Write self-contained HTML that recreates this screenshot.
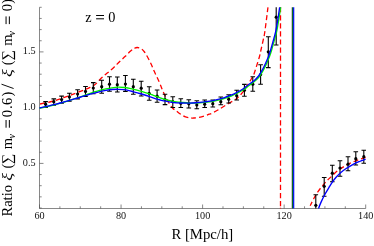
<!DOCTYPE html>
<html><head><meta charset="utf-8"><title>plot</title>
<style>html,body{margin:0;padding:0;background:#fff;}body{width:374px;height:246px;overflow:hidden;position:relative;font-family:"Liberation Serif",serif;}</style>
</head><body>
<svg width="374" height="246" viewBox="0 0 374 246" style="position:absolute;left:0;top:0;will-change:transform">
<defs><clipPath id="c"><rect x="39.0" y="7.3" width="327.0" height="201.2"/></clipPath></defs>
<rect width="374" height="246" fill="#fff"/>
<path d="M39.5,7.3V208.5H365.7M39.50,208.5v-4M59.89,208.5v-2.2M80.28,208.5v-2.2M100.66,208.5v-2.2M121.05,208.5v-4M141.44,208.5v-2.2M161.82,208.5v-2.2M182.21,208.5v-2.2M202.60,208.5v-4M222.99,208.5v-2.2M243.38,208.5v-2.2M263.76,208.5v-2.2M284.15,208.5v-4M304.54,208.5v-2.2M324.93,208.5v-2.2M345.31,208.5v-2.2M365.70,208.5v-4M39.5,208.00h2.2M39.5,196.85h2.2M39.5,185.70h2.2M39.5,174.55h2.2M39.5,163.40h4M39.5,152.25h2.2M39.5,141.10h2.2M39.5,129.95h2.2M39.5,118.80h2.2M39.5,107.65h4M39.5,96.50h2.2M39.5,85.35h2.2M39.5,74.20h2.2M39.5,63.05h2.2M39.5,51.90h4M39.5,40.75h2.2M39.5,29.60h2.2M39.5,18.45h2.2M39.5,7.30h2.2" stroke="#555" stroke-width="0.7" fill="none"/>
<g clip-path="url(#c)" fill="none" stroke-linejoin="round">
<path d="M39.50,104.10 C41.22,103.75 47.05,102.63 49.80,102.00 C52.55,101.37 53.76,101.00 56.00,100.30 C58.24,99.60 60.58,98.75 63.25,97.80 C65.92,96.85 68.54,95.90 72.00,94.60 C75.46,93.30 81.00,91.20 84.00,90.00 C87.00,88.80 88.17,88.30 90.00,87.40 C91.83,86.50 93.42,85.83 95.00,84.60 C96.58,83.37 97.92,81.55 99.50,80.00 C101.08,78.45 102.83,76.77 104.50,75.30 C106.17,73.83 107.83,72.63 109.50,71.20 C111.17,69.77 112.83,68.28 114.50,66.70 C116.17,65.12 117.70,63.43 119.50,61.70 C121.30,59.97 123.50,58.03 125.30,56.30 C127.10,54.57 128.77,52.63 130.30,51.30 C131.83,49.97 133.33,48.93 134.50,48.30 C135.67,47.67 136.18,47.43 137.30,47.50 C138.42,47.57 140.00,47.95 141.20,48.70 C142.40,49.45 143.40,50.53 144.50,52.00 C145.60,53.47 146.68,55.47 147.80,57.50 C148.92,59.53 150.17,61.98 151.20,64.20 C152.23,66.42 152.67,67.83 154.00,70.80 C155.33,73.77 157.65,78.47 159.20,82.00 C160.75,85.53 161.78,88.67 163.30,92.00 C164.82,95.33 166.77,99.33 168.30,102.00 C169.83,104.67 171.22,106.57 172.50,108.00 C173.78,109.43 174.77,109.65 176.00,110.60 C177.23,111.55 178.43,112.70 179.90,113.70 C181.37,114.70 183.02,115.90 184.80,116.60 C186.58,117.30 189.13,117.67 190.60,117.90 C192.07,118.13 192.30,118.05 193.60,118.00 C194.90,117.95 196.62,117.92 198.40,117.60 C200.18,117.28 202.50,116.68 204.30,116.10 C206.10,115.52 207.92,114.58 209.20,114.10 C210.48,113.62 210.48,113.92 212.00,113.20 C213.52,112.48 215.85,111.23 218.30,109.80 C220.75,108.37 223.78,106.37 226.70,104.60 C229.62,102.83 233.80,100.52 235.80,99.20 C237.80,97.88 237.57,97.83 238.70,96.70 C239.83,95.57 241.30,94.07 242.60,92.40 C243.90,90.73 245.37,88.40 246.50,86.70 C247.63,85.00 248.48,83.68 249.40,82.20 C250.32,80.72 251.27,79.07 252.00,77.80 C252.73,76.53 253.02,76.63 253.80,74.60 C254.58,72.57 255.75,68.62 256.70,65.60 C257.65,62.58 258.75,59.27 259.50,56.50 C260.25,53.73 260.58,51.75 261.20,49.00 C261.82,46.25 262.60,42.83 263.20,40.00 C263.80,37.17 264.00,37.50 264.80,32.00 C265.60,26.50 267.27,12.83 268.00,7.00 C268.73,1.17 269.00,-1.33 269.20,-3.00" stroke="#ff0000" stroke-width="1.3" stroke-dasharray="5 3" stroke-dashoffset="-0.7"/>
<path d="M280.5,7.1 V215" stroke="#ff0000" stroke-width="1.3" stroke-dasharray="5.2 2.88"/>
<path d="M280.5,207.7 V209" stroke="#ff0000" stroke-width="1.3"/>
<path d="M310.20,205.70 C310.78,204.55 312.43,201.10 313.70,198.80 C314.97,196.50 316.42,193.97 317.80,191.90 C319.18,189.83 320.50,188.25 322.00,186.40 C323.50,184.55 325.17,182.50 326.80,180.80 C328.43,179.10 330.02,177.87 331.80,176.20 C333.58,174.53 335.62,172.32 337.50,170.80 C339.38,169.28 341.25,168.25 343.10,167.10 C344.95,165.95 346.77,164.83 348.60,163.90 C350.43,162.97 352.27,162.27 354.10,161.50 C355.93,160.73 357.68,160.00 359.60,159.30 C361.52,158.60 364.60,157.63 365.60,157.30" stroke="#ff0000" stroke-width="1.3" stroke-dasharray="5 3" stroke-dashoffset="0.74"/>
<path d="M45.6,101.6V107.5M43.3,101.6h4.6M43.3,107.5h4.6M53.8,98.9V105.2M51.5,98.9h4.6M51.5,105.2h4.6M61.6,96.1V103.2M59.3,96.1h4.6M59.3,103.2h4.6M69.4,93.2V101.3M67.1,93.2h4.6M67.1,101.3h4.6M77.6,89.8V98.9M75.3,89.8h4.6M75.3,98.9h4.6M85.5,86.5V96.4M83.2,86.5h4.6M83.2,96.4h4.6M93.3,82.6V93.8M91.0,82.6h4.6M91.0,93.8h4.6M101.7,80.3V93.3M99.4,80.3h4.6M99.4,93.3h4.6M109.5,76.7V91.2M107.2,76.7h4.6M107.2,91.2h4.6M117.3,77.0V92.0M115.0,77.0h4.6M115.0,92.0h4.6M125.4,75.5V91.4M123.1,75.5h4.6M123.1,91.4h4.6M133.3,79.2V94.3M131.0,79.2h4.6M131.0,94.3h4.6M141.2,81.3V96.0M138.9,81.3h4.6M138.9,96.0h4.6M149.2,86.7V100.3M146.9,86.7h4.6M146.9,100.3h4.6M157.1,90.0V102.2M154.8,90.0h4.6M154.8,102.2h4.6M165.0,94.2V104.6M162.7,94.2h4.6M162.7,104.6h4.6M172.8,96.7V107.5M170.5,96.7h4.6M170.5,107.5h4.6M180.8,98.7V107.5M178.5,98.7h4.6M178.5,107.5h4.6M188.8,99.7V108.0M186.5,99.7h4.6M186.5,108.0h4.6M196.8,100.8V108.7M194.5,100.8h4.6M194.5,108.7h4.6M204.7,100.0V107.5M202.4,100.0h4.6M202.4,107.5h4.6M212.8,100.0V107.0M210.5,100.0h4.6M210.5,107.0h4.6M220.8,97.0V104.7M218.5,97.0h4.6M218.5,104.7h4.6M228.7,94.7V103.0M226.4,94.7h4.6M226.4,103.0h4.6M236.7,90.3V100.0M234.4,90.3h4.6M234.4,100.0h4.6M244.4,84.4V96.3M242.1,84.4h4.6M242.1,96.3h4.6M252.8,76.7V91.2M250.5,76.7h4.6M250.5,91.2h4.6M260.6,64.8V84.3M258.3,64.8h4.6M258.3,84.3h4.6M268.3,36.8V67.6M266.0,36.8h4.6M266.0,67.6h4.6M276.2,-10.0V45.0M273.9,-10.0h4.6M273.9,45.0h4.6M315.8,194.7V216.0M313.5,194.7h4.6M313.5,216.0h4.6M324.2,177.5V196.3M321.9,177.5h4.6M321.9,196.3h4.6M332.3,165.3V181.7M330.0,165.3h4.6M330.0,181.7h4.6M340.0,160.8V176.3M337.7,160.8h4.6M337.7,176.3h4.6M348.0,156.7V170.8M345.7,156.7h4.6M345.7,170.8h4.6M355.8,151.7V165.0M353.5,151.7h4.6M353.5,165.0h4.6M363.8,150.3V163.3M361.5,150.3h4.6M361.5,163.3h4.6" stroke="#000" stroke-width="1.1"/>
<circle cx="45.6" cy="104.2" r="1.6" fill="#000" stroke="none"/>
<circle cx="53.8" cy="101.7" r="1.6" fill="#000" stroke="none"/>
<circle cx="61.6" cy="99.5" r="1.6" fill="#000" stroke="none"/>
<circle cx="69.4" cy="96.9" r="1.6" fill="#000" stroke="none"/>
<circle cx="77.6" cy="94.0" r="1.6" fill="#000" stroke="none"/>
<circle cx="85.5" cy="91.4" r="1.6" fill="#000" stroke="none"/>
<circle cx="93.3" cy="88.0" r="1.6" fill="#000" stroke="none"/>
<circle cx="101.7" cy="86.7" r="1.6" fill="#000" stroke="none"/>
<circle cx="109.5" cy="84.2" r="1.6" fill="#000" stroke="none"/>
<circle cx="117.3" cy="84.7" r="1.6" fill="#000" stroke="none"/>
<circle cx="125.4" cy="84.0" r="1.6" fill="#000" stroke="none"/>
<circle cx="133.3" cy="86.7" r="1.6" fill="#000" stroke="none"/>
<circle cx="141.2" cy="88.2" r="1.6" fill="#000" stroke="none"/>
<circle cx="149.2" cy="93.3" r="1.6" fill="#000" stroke="none"/>
<circle cx="157.1" cy="96.2" r="1.6" fill="#000" stroke="none"/>
<circle cx="165.0" cy="99.5" r="1.6" fill="#000" stroke="none"/>
<circle cx="172.8" cy="101.7" r="1.6" fill="#000" stroke="none"/>
<circle cx="180.8" cy="103.3" r="1.6" fill="#000" stroke="none"/>
<circle cx="188.8" cy="103.8" r="1.6" fill="#000" stroke="none"/>
<circle cx="196.8" cy="105.0" r="1.6" fill="#000" stroke="none"/>
<circle cx="204.7" cy="104.2" r="1.6" fill="#000" stroke="none"/>
<circle cx="212.8" cy="103.7" r="1.6" fill="#000" stroke="none"/>
<circle cx="220.8" cy="101.7" r="1.6" fill="#000" stroke="none"/>
<circle cx="228.7" cy="99.2" r="1.6" fill="#000" stroke="none"/>
<circle cx="236.7" cy="95.8" r="1.6" fill="#000" stroke="none"/>
<circle cx="244.4" cy="90.3" r="1.6" fill="#000" stroke="none"/>
<circle cx="252.8" cy="84.2" r="1.6" fill="#000" stroke="none"/>
<circle cx="260.6" cy="74.6" r="1.6" fill="#000" stroke="none"/>
<circle cx="268.3" cy="51.8" r="1.6" fill="#000" stroke="none"/>
<circle cx="276.2" cy="17.2" r="1.6" fill="#000" stroke="none"/>
<circle cx="315.8" cy="205.3" r="1.6" fill="#000" stroke="none"/>
<circle cx="324.2" cy="186.3" r="1.6" fill="#000" stroke="none"/>
<circle cx="332.3" cy="173.2" r="1.6" fill="#000" stroke="none"/>
<circle cx="340.0" cy="168.0" r="1.6" fill="#000" stroke="none"/>
<circle cx="348.0" cy="164.2" r="1.6" fill="#000" stroke="none"/>
<circle cx="355.8" cy="158.7" r="1.6" fill="#000" stroke="none"/>
<circle cx="363.8" cy="156.7" r="1.6" fill="#000" stroke="none"/>
<path d="M39.56,108.29 C40.98,107.98 45.31,107.09 48.05,106.43 C50.80,105.78 53.38,105.10 56.05,104.37 C58.71,103.64 61.37,102.84 64.03,102.06 C66.69,101.27 69.36,100.52 72.01,99.68 C74.66,98.83 77.29,97.91 79.92,96.99 C82.55,96.08 85.50,94.99 87.80,94.18 C90.10,93.37 91.75,92.78 93.73,92.13 C95.72,91.48 97.71,90.82 99.71,90.27 C101.71,89.73 103.72,89.28 105.75,88.87 C107.77,88.46 109.80,88.08 111.85,87.81 C113.90,87.53 115.97,87.25 118.03,87.20 C120.10,87.15 122.35,87.33 124.26,87.52 C126.17,87.70 127.94,88.01 129.51,88.32 C131.07,88.62 132.20,88.98 133.64,89.34 C135.08,89.69 136.70,90.09 138.15,90.46 C139.61,90.82 140.58,90.98 142.36,91.51 C144.13,92.04 147.00,93.00 148.82,93.63 C150.63,94.26 151.78,94.73 153.27,95.27 C154.76,95.82 156.31,96.38 157.76,96.90 C159.21,97.43 160.61,97.97 161.96,98.42 C163.32,98.88 164.20,99.19 165.91,99.63 C167.61,100.07 170.41,100.70 172.19,101.06 C173.97,101.43 175.08,101.60 176.57,101.80 C178.06,102.01 179.07,102.10 181.12,102.31 C183.17,102.52 186.41,102.93 188.90,103.05 C191.38,103.17 193.41,103.15 196.02,103.05 C198.64,102.95 201.74,102.72 204.57,102.45 C207.41,102.17 210.42,101.85 213.03,101.40 C215.64,100.94 218.01,100.32 220.22,99.72 C222.43,99.12 224.44,98.42 226.28,97.81 C228.12,97.20 229.55,96.71 231.24,96.03 C232.93,95.36 234.53,94.70 236.43,93.75 C238.33,92.79 240.56,91.63 242.62,90.30 C244.68,88.97 246.72,87.30 248.77,85.77 C250.83,84.24 253.17,82.66 254.93,81.13 C256.70,79.60 257.96,78.42 259.37,76.59 C260.77,74.76 262.18,72.28 263.35,70.17 C264.52,68.05 265.34,66.21 266.39,63.90 C267.43,61.60 268.69,58.81 269.61,56.34 C270.54,53.87 271.23,51.43 271.94,49.08 C272.64,46.73 273.07,45.07 273.84,42.26 C274.61,39.45 275.79,35.65 276.56,32.21 C277.33,28.78 277.78,25.84 278.47,21.66 C279.16,17.48 280.09,11.23 280.67,7.14 C281.26,3.05 281.76,-1.20 281.98,-2.87" stroke="#00f000" stroke-width="1.3"/>
<path d="M291.75,0 V215" stroke="#777" stroke-width="0.5"/>
<path d="M292.5,0 V215" stroke="#0c6a20" stroke-width="1"/>
<path d="M39.50,108.00 C40.92,107.70 45.25,106.83 48.00,106.20 C50.75,105.57 53.33,104.91 56.00,104.20 C58.67,103.49 61.33,102.71 64.00,101.95 C66.67,101.19 69.33,100.43 72.00,99.65 C74.67,98.87 77.33,98.05 80.00,97.25 C82.67,96.45 85.67,95.54 88.00,94.85 C90.33,94.16 92.00,93.65 94.00,93.10 C96.00,92.55 98.00,92.01 100.00,91.55 C102.00,91.09 104.00,90.69 106.00,90.35 C108.00,90.01 110.00,89.67 112.00,89.50 C114.00,89.33 116.00,89.27 118.00,89.30 C120.00,89.33 122.17,89.48 124.00,89.70 C125.83,89.92 127.50,90.27 129.00,90.60 C130.50,90.93 131.58,91.32 133.00,91.70 C134.42,92.08 136.07,92.52 137.50,92.90 C138.93,93.28 139.85,93.47 141.60,94.00 C143.35,94.53 146.18,95.50 148.00,96.10 C149.82,96.70 150.98,97.10 152.50,97.60 C154.02,98.10 155.60,98.65 157.10,99.10 C158.60,99.55 160.08,99.95 161.50,100.30 C162.92,100.65 163.85,100.86 165.60,101.20 C167.35,101.54 170.18,102.08 172.00,102.35 C173.82,102.62 174.98,102.69 176.50,102.80 C178.02,102.91 179.03,102.94 181.10,103.00 C183.17,103.06 186.42,103.19 188.90,103.15 C191.38,103.11 193.40,102.97 196.00,102.75 C198.60,102.53 201.68,102.19 204.50,101.85 C207.32,101.51 210.32,101.18 212.90,100.70 C215.48,100.22 217.82,99.57 220.00,98.95 C222.18,98.33 224.18,97.62 226.00,97.00 C227.82,96.38 229.23,95.88 230.90,95.20 C232.57,94.52 234.13,93.85 236.00,92.90 C237.87,91.95 240.07,90.82 242.10,89.50 C244.13,88.18 246.17,86.52 248.20,85.00 C250.23,83.48 252.57,81.90 254.30,80.40 C256.03,78.90 257.23,77.78 258.60,76.00 C259.97,74.22 261.35,71.78 262.50,69.70 C263.65,67.62 264.47,65.78 265.50,63.50 C266.53,61.22 267.78,58.45 268.70,56.00 C269.62,53.55 270.30,51.13 271.00,48.80 C271.70,46.47 272.13,44.80 272.90,42.00 C273.67,39.20 274.83,35.42 275.60,32.00 C276.37,28.58 276.82,25.67 277.50,21.50 C278.18,17.33 279.12,11.08 279.70,7.00 C280.28,2.92 280.78,-1.33 281.00,-3.00" stroke="#0000ff" stroke-width="1.35"/>
<path d="M318.30,211.00 C318.40,210.42 318.40,209.07 318.90,207.50 C319.40,205.93 320.33,203.73 321.30,201.60 C322.27,199.47 323.43,197.02 324.70,194.70 C325.97,192.38 327.57,189.88 328.90,187.70 C330.23,185.52 331.50,183.35 332.70,181.60 C333.90,179.85 334.83,178.65 336.10,177.20 C337.37,175.75 338.68,174.32 340.30,172.90 C341.92,171.48 343.73,170.08 345.80,168.70 C347.87,167.32 350.40,165.80 352.70,164.60 C355.00,163.40 357.45,162.40 359.60,161.50 C361.75,160.60 364.60,159.58 365.60,159.20" stroke="#0000ff" stroke-width="1.35"/>
<path d="M293.65,0 V215" stroke="#0818f0" stroke-width="1.3"/>
</g>
<text x="39.5" y="219.2" font-size="10.2" text-anchor="middle" font-family="Liberation Serif, serif" fill="#111">60</text>
<text x="121.0" y="219.2" font-size="10.2" text-anchor="middle" font-family="Liberation Serif, serif" fill="#111">80</text>
<text x="202.6" y="219.2" font-size="10.2" text-anchor="middle" font-family="Liberation Serif, serif" fill="#111">100</text>
<text x="284.1" y="219.2" font-size="10.2" text-anchor="middle" font-family="Liberation Serif, serif" fill="#111">120</text>
<text x="365.7" y="219.2" font-size="10.2" text-anchor="middle" font-family="Liberation Serif, serif" fill="#111">140</text>
<text x="35.6" y="165.9" font-size="10.2" text-anchor="end" font-family="Liberation Serif, serif" fill="#111">0.5</text>
<text x="35.6" y="110.2" font-size="10.2" text-anchor="end" font-family="Liberation Serif, serif" fill="#111">1.0</text>
<text x="35.6" y="54.4" font-size="10.2" text-anchor="end" font-family="Liberation Serif, serif" fill="#111">1.5</text>
<text x="171.4" y="239" font-size="14.75" font-family="Liberation Serif, serif" fill="#000">R [Mpc/h]</text>
<text x="85.3" y="21.7" font-size="14.3" font-family="Liberation Serif, serif" fill="#000">z</text>
<rect x="96.1" y="15.0" width="7.9" height="1" fill="#000"/><rect x="96.1" y="18.3" width="7.9" height="1" fill="#000"/>
<text x="108.2" y="21.7" font-size="14.3" font-family="Liberation Serif, serif" fill="#000">0</text>
<g transform="translate(11.7,216.5) rotate(-90)" font-size="14.5" font-family="Liberation Serif, serif" fill="#000">
<text x="0" y="0">Ratio</text>
<text transform="translate(35.699999999999996,0.3) scale(1.1,0.92)" x="0" y="0" font-size="16.5" font-style="italic">ξ</text>
<text x="47.9" y="0">(</text>
<text x="52.6" y="0">∑</text>
<text x="67.3" y="0">m</text>
<text x="78.1" y="2.9" font-style="italic" font-size="10">ν</text>
<rect x="88.8" y="-6.15" width="7.7" height="1" /><rect x="88.8" y="-2.85" width="7.7" height="1" />
<text x="99.3" y="0">0</text>
<text x="107.6" y="0">.</text>
<text x="111.6" y="0">6</text>
<text x="120.0" y="0">)</text>
<path d="M128.0,1.9 L132.3,-10.2" stroke="#000" stroke-width="0.95" fill="none"/>
<text transform="translate(139.4,0.3) scale(1.1,0.92)" x="0" y="0" font-size="16.5" font-style="italic">ξ</text>
<text x="151.3" y="0">(</text>
<text x="156.2" y="0">∑</text>
<text x="170.7" y="0">m</text>
<text x="181.1" y="2.9" font-style="italic" font-size="10">ν</text>
<rect x="192.4" y="-6.15" width="7.7" height="1" /><rect x="192.4" y="-2.85" width="7.7" height="1" />
<text x="205.2" y="0">0</text>
<text x="212.7" y="0">)</text>
</g>
</svg>
</body></html>
